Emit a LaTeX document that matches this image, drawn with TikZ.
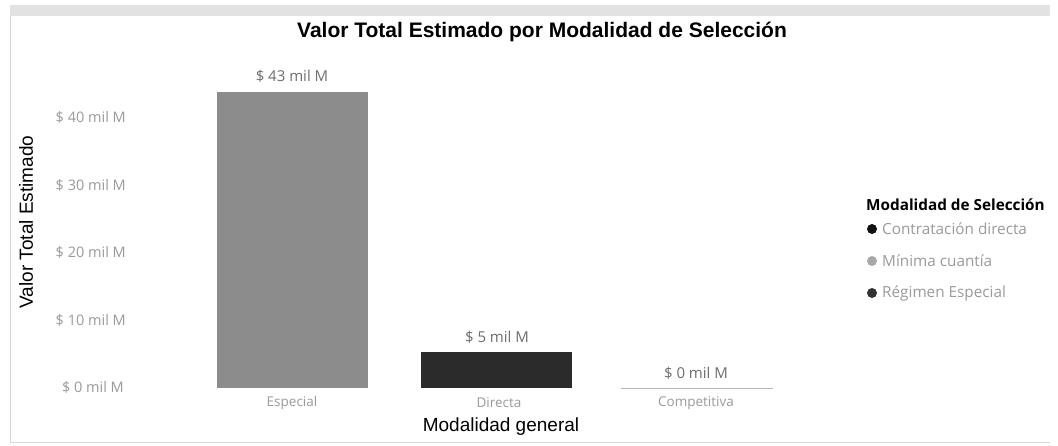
\documentclass[tikz,border=0pt]{standalone}
\usepackage{fontspec}
\setmainfont{Liberation Sans}
\newfontfamily\uifont{Open Sans}
\definecolor{frame}{HTML}{D6D6D6}
\definecolor{band}{HTML}{E2E2E2}
\definecolor{tick}{HTML}{9A9A9A}
\definecolor{datal}{HTML}{6E6E6E}
\definecolor{barA}{HTML}{8C8C8C}
\definecolor{barB}{HTML}{2B2B2B}
\definecolor{dotA}{HTML}{111111}
\definecolor{dotB}{HTML}{A8A8A8}
\definecolor{dotC}{HTML}{333333}
\begin{document}
\begin{tikzpicture}[x=1pt,y=-1pt,
  ticklab/.style={font=\uifont\fontsize{14.5}{16}\selectfont, text=tick, anchor=east, inner sep=0pt},
  catlab/.style={font=\uifont\fontsize{13.5}{15}\selectfont, text=tick, inner sep=0pt},
  datalab/.style={font=\uifont\fontsize{15}{17}\selectfont, text=datal, inner sep=0pt},
  legitem/.style={font=\uifont\fontsize{15.3}{17}\selectfont, text=tick, anchor=west, inner sep=0pt},
  legdot/.style={circle, minimum size=10pt, inner sep=0pt},
  axtitle/.style={font=\fontsize{19}{22}\selectfont, text=black, inner sep=0pt}]
\useasboundingbox (0,0) rectangle (1058,446);
\fill[white] (0,0) rectangle (1058,446);
% frame
\fill[band] (10,5) rectangle (1050,16);
\draw[frame, line width=1pt] (10,16) -- (10,442) -- (1050,442);
% title
\node[font=\bfseries\fontsize{21}{24}\selectfont, inner sep=0pt] (title) at (542,32) {Valor Total Estimado por Modalidad de Selección};
% y tick labels
\node[ticklab] (t40) at (126,117) {\$ 40 mil M};
\node[ticklab] (t30) at (126,185) {\$ 30 mil M};
\node[ticklab] (t20) at (126,252) {\$ 20 mil M};
\node[ticklab] (t10) at (126,320) {\$ 10 mil M};
\node[ticklab] (t0) at (124,387) {\$ 0 mil M};
% y axis title
\node[axtitle, rotate=90] (ytitle) at (26,222) {Valor Total Estimado};
% bars
\fill[barA] (217,92) rectangle (368,388);
\node (barE) at (292,240) {};
\fill[barB] (421,352) rectangle (572,388);
\node (barD) at (496,370) {};
\draw[tick!70, line width=0.8pt] (621,388) -- (773,388);
% data labels
\node[datalab] (dE) at (292,76) {\$ 43 mil M};
\node[datalab] (dD) at (497,337) {\$ 5 mil M};
\node[datalab] (dC) at (696,373) {\$ 0 mil M};
% category labels
\node[catlab] (cE) at (292,403) {Especial};
\node[catlab] (cD) at (499,403) {Directa};
\node[catlab] (cC) at (696,403) {Competitiva};
% x axis title
\node[axtitle] (xtitle) at (501,427) {Modalidad general};
% legend
\node[font=\uifont\bfseries\fontsize{15.3}{17}\selectfont, anchor=west, inner sep=0pt] (legtitle) at (866,205) {Modalidad de Selección};
\node[legdot, fill=dotA] (l1) at (872,229) {};
\node[legitem] (l1t) at (882,229) {Contratación directa};
\node[legdot, fill=dotB] (l2) at (872,261) {};
\node[legitem] (l2t) at (882,261) {Mínima cuantía};
\node[legdot, fill=dotC] (l3) at (872,293) {};
\node[legitem] (l3t) at (882,293) {Régimen Especial};
\end{tikzpicture}
\end{document}
